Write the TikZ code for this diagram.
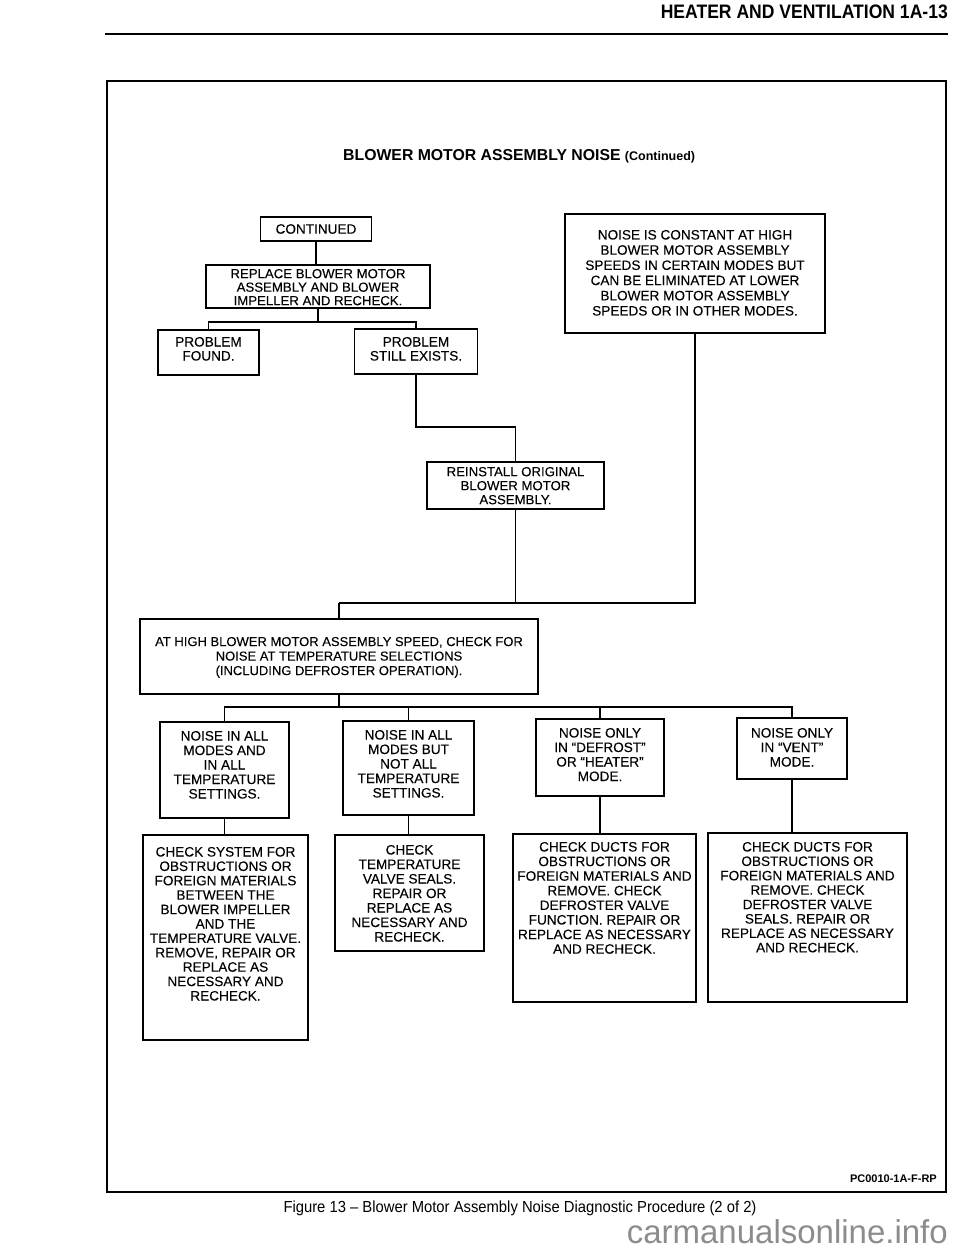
\documentclass[tikz,border=0pt]{standalone}
\usepackage{fontspec}
\setmainfont{Liberation Sans}
\newfontfamily\hdrfont[FakeStretch=0.9]{Liberation Sans}
\newfontfamily\capfont[FakeStretch=0.925]{Liberation Sans}
\newfontfamily\boxfont[FakeBold=0.12]{Liberation Sans}
\newcommand{\bt}[6][13.6]{\parbox[c][#3pt][t]{#2pt}{\boxfont\fontsize{#1}{#5}\selectfont\centering\vspace*{#4pt}#6\par}}
\tikzset{
  bx/.style={draw, line width=1.5pt, inner sep=0pt, font=\boxfont\fontsize{13.6}{14.5}\selectfont},
  ln/.style={line width=1.5pt},
}
\begin{document}
\begin{tikzpicture}[x=1pt,y=-1pt]
\useasboundingbox (0,0) rectangle (960,1250);
% header
\node[anchor=base east, inner sep=0pt] (hdr) at (948,19) {\hdrfont\bfseries\fontsize{19.5}{22}\selectfont HEATER AND VENTILATION 1A-13};
\coordinate (hl) at (105,34);
\coordinate (hr) at (948,34);
\draw[line width=2pt] (hl) -- (hr);
% frame
\draw[line width=1.7pt] (107,81) rectangle (946,1192);
% title
\node[anchor=base west, inner sep=0pt] (title) at (343,160.5) {\bfseries\fontsize{15.8}{18}\selectfont BLOWER MOTOR ASSEMBLY NOISE \fontsize{12.5}{14}\selectfont(Continued)};
% boxes
\node[bx, minimum width=111pt, minimum height=24pt] (cont) at (316,229) {CONTINUED};
\node[bx] (repl) at (318,286.5) {\bt[13.2]{224}{43}{4}{13.5}{REPLACE BLOWER MOTOR\\ASSEMBLY AND BLOWER\\IMPELLER AND RECHECK.}};
\node[bx] (pf) at (208.5,352.5) {\bt{101}{45}{7}{14}{PROBLEM\\FOUND.}};
\node[bx] (pse) at (416,351.5) {\bt{123}{45}{8}{14}{PROBLEM\\STILL EXISTS.}};
\node[bx] (noise) at (695,273.5) {\bt{260}{119}{16}{15.2}{NOISE IS CONSTANT AT HIGH\\BLOWER MOTOR ASSEMBLY\\SPEEDS IN CERTAIN MODES BUT\\CAN BE ELIMINATED AT LOWER\\BLOWER MOTOR ASSEMBLY\\SPEEDS OR IN OTHER MODES.}};
\node[bx] (rein) at (515.5,485.5) {\bt[13.2]{177}{47}{5}{14}{REINSTALL ORIGINAL\\BLOWER MOTOR\\ASSEMBLY.}};
\node[bx] (athigh) at (339,656.5) {\bt[13]{398}{75}{18}{14.5}{AT HIGH BLOWER MOTOR ASSEMBLY SPEED, CHECK FOR\\NOISE AT TEMPERATURE SELECTIONS\\(INCLUDING DEFROSTER OPERATION).}};
\node[bx] (a) at (224.5,770) {\bt{129}{96}{9}{14.5}{NOISE IN ALL\\MODES AND\\IN ALL\\TEMPERATURE\\SETTINGS.}};
\node[bx] (b) at (408.5,768) {\bt{131}{94}{9}{14.5}{NOISE IN ALL\\MODES BUT\\NOT ALL\\TEMPERATURE\\SETTINGS.}};
\node[bx] (c) at (600,757.5) {\bt{128}{77}{9}{14.5}{NOISE ONLY\\IN “DEFROST”\\OR “HEATER”\\MODE.}};
\node[bx] (d) at (792,748.5) {\bt{110}{61}{10}{14.5}{NOISE ONLY\\IN “VENT”\\MODE.}};
\node[bx] (a2) at (225.5,937.5) {\bt{165}{205}{12}{14.4}{CHECK SYSTEM FOR\\OBSTRUCTIONS OR\\FOREIGN MATERIALS\\BETWEEN THE\\BLOWER IMPELLER\\AND THE\\TEMPERATURE VALVE.\\REMOVE, REPAIR OR\\REPLACE AS\\NECESSARY AND\\RECHECK.}};
\node[bx] (b2) at (409.5,893) {\bt{149}{116}{10}{14.5}{CHECK\\TEMPERATURE\\VALVE SEALS.\\REPAIR OR\\REPLACE AS\\NECESSARY AND\\RECHECK.}};
\node[bx] (c2) at (604.5,918) {\bt{183}{168}{8}{14.6}{CHECK DUCTS FOR\\OBSTRUCTIONS OR\\FOREIGN MATERIALS AND\\REMOVE. CHECK\\DEFROSTER VALVE\\FUNCTION. REPAIR OR\\REPLACE AS NECESSARY\\AND RECHECK.}};
\node[bx] (d2) at (807.5,917.5) {\bt{199}{169}{9}{14.4}{CHECK DUCTS FOR\\OBSTRUCTIONS OR\\FOREIGN MATERIALS AND\\REMOVE. CHECK\\DEFROSTER VALVE\\SEALS. REPAIR OR\\REPLACE AS NECESSARY\\AND RECHECK.}};
% connectors
\coordinate (j1) at (318,322);
\coordinate (k1) at (416,427);
\coordinate (j2) at (339,603);
\coordinate (j3) at (339,707);
\draw[ln] (cont.south) -- (cont.south |- repl.north);
\draw[ln] (repl.south) -- (j1);
\draw[ln] (pf.north) |- (j1);
\draw[ln] (pse.north) |- (j1);
\draw[ln] (pse.south) -- (k1) -| (rein.north);
\draw[ln] (noise.south) |- (j2);
\draw[ln] (rein.south) -- (rein.south |- j2);
\draw[ln] (j2) -- (athigh.north);
\draw[ln] (athigh.south) -- (j3);
\draw[ln] (a.north) |- (j3);
\draw[ln] (d.north) |- (j3);
\draw[ln] (b.north) -- (b.north |- j3);
\draw[ln] (c.north) -- (c.north |- j3);
\draw[ln] (a.south) -- (a.south |- a2.north);
\draw[ln] (b.south) -- (b.south |- b2.north);
\draw[ln] (c.south) -- (c.south |- c2.north);
\draw[ln] (d.south) -- (d.south |- d2.north);
% footer texts
\node[anchor=base east, inner sep=0pt] (code) at (937,1182) {\bfseries\fontsize{11}{13}\selectfont PC0010-1A-F-RP};
\node[anchor=base, inner sep=0pt] (caption) at (520,1212) {\capfont\fontsize{16}{18}\selectfont Figure 13 – Blower Motor Assembly Noise Diagnostic Procedure (2 of 2)};
\node[anchor=base east, inner sep=0pt, text=black!45] (wm) at (948,1243) {\fontsize{33}{36}\selectfont carmanualsonline.info};
\end{tikzpicture}
\end{document}
